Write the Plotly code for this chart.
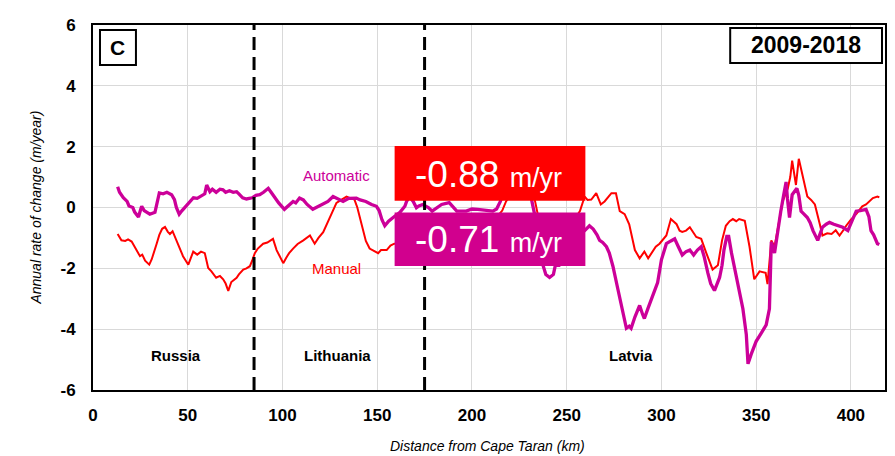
import plotly.graph_objects as go

# ---------------- data ----------------
auto_km = [13, 14, 16, 18, 19, 21, 22, 24, 25, 25.7, 27, 30, 32.7, 34, 35, 37, 39, 41.5, 43, 44, 45.5, 47, 49,
           51, 53, 55, 58, 59, 60, 61.7, 63, 65, 67, 68.6, 70, 72, 74, 75.8, 77, 79, 81, 84, 86, 88, 90, 92.5,
           94, 96, 98, 101, 103, 105.6, 107, 109, 111, 113, 116, 118, 121.5, 124, 126.7, 129, 132, 135, 139,
           141, 144, 147, 149.6, 151, 152.5, 154, 156, 158.4, 161, 162, 164.6, 165.5, 167, 169, 170.7, 172,
           174, 177, 179, 182, 184, 188, 190, 192, 197, 200, 203, 207, 211, 213, 215, 217, 222, 228, 231, 233,
           235, 237, 239, 241, 243, 244, 246, 249, 252, 255, 257, 259.5, 262, 264, 266, 267.4, 269, 271, 272.5,
           274.4, 277, 279.7, 281.5, 283, 284, 286, 288.5, 290, 291, 293, 294.7, 296, 298, 300, 302.6, 305,
           307, 309, 311, 313, 315, 317, 319, 321, 322.5, 324.5, 326, 328, 330.7, 332, 333, 334.5, 335.5,
           337, 339.5, 341, 343, 344.8, 345.7, 347.4, 350, 352.7, 355.3, 357, 358, 359.7, 361, 363, 364.5,
           365.8, 366.5, 367.6, 369, 371.5, 372.5, 373.7, 375, 377, 378.5, 380, 382.5, 385, 387, 388.7, 391,
           393, 395.7, 398.4, 400, 402.8, 405, 408, 409.5, 410.6, 412, 414, 415]
auto_val = [0.68, 0.5, 0.32, 0.2, 0.05, 0.0, -0.15, -0.31, -0.1, 0.04, -0.1, -0.22, -0.16, 0.2, 0.48, 0.45,
            0.5, 0.42, 0.26, 0.0, -0.22, -0.1, 0.04, 0.15, 0.32, 0.3, 0.42, 0.45, 0.74, 0.52, 0.6, 0.5, 0.6,
            0.58, 0.5, 0.55, 0.5, 0.52, 0.45, 0.32, 0.28, 0.32, 0.4, 0.42, 0.5, 0.63, 0.5, 0.31, 0.15, -0.06,
            0.05, 0.2, 0.15, 0.31, 0.25, 0.1, -0.06, 0.0, 0.1, 0.2, 0.36, 0.3, 0.2, 0.3, 0.31, 0.25, 0.2, 0.1,
            0.04, -0.1, -0.4, -0.6, -0.45, -0.33, -0.2, -0.16, 0.04, 0.2, 0.36, 0.2, -0.01, 0.05, 0.1, 0.0,
            -0.12, 0.0, 0.1, 0.16, 0.0, -0.12, -0.12, -0.05, -0.06, -0.1, -0.12, -0.05, 0.2, 0.6, 0.8, 0.7,
            0.4, -0.2, -1.0, -1.8, -2.2, -2.3, -2.2, -1.9, -1.9, -1.5, -1.0, -0.8, -0.75, -0.76, -0.6, -0.71,
            -0.9, -1.08, -1.15, -1.29, -1.5, -1.93, -2.68, -3.43, -3.97, -3.9, -3.97, -3.6, -3.22, -3.5,
            -3.65, -3.3, -3.0, -2.8, -2.47, -1.72, -1.19, -1.1, -1.03, -1.3, -1.56, -1.45, -1.4, -1.56, -1.4,
            -1.29, -1.6, -2.15, -2.5, -2.73, -2.3, -1.9, -1.4, -0.95, -0.95, -1.5, -2.26, -2.7, -3.33, -4.18,
            -5.14, -4.82, -4.4, -4.13, -3.86, -3.33, -1.13, -1.5, -0.9, -0.12, 0.4, 0.84, 0.3, -0.33, 0.42,
            0.63, 0.4, -0.12, -0.2, -0.33, -0.5, -0.76, -1.08, -0.65, -0.55, -0.49, -0.55, -0.6, -0.65, -0.76,
            -0.5, -0.12, -0.1, -0.06, -0.3, -0.76, -0.9, -1.19, -1.22]

manual_km = [13, 14, 15, 17, 18.5, 20.4, 22, 24.8, 26, 27.5, 29.7, 31, 33.6, 35, 36.5, 38, 39.5, 40.6, 42,
             44, 45.9, 47.5, 50.3, 51.5, 52.9, 55, 57, 59, 60.8, 62.5, 65, 67, 68.7, 70, 71.4, 73, 75.8, 77,
             79.3, 81, 82.8, 84, 85.4, 87, 89.8, 92, 95, 96.9, 98.5, 100.4, 102, 103.5, 105.6, 108, 111,
             112.5, 114.5, 117, 119, 121.5, 123, 125, 127, 128.5, 131, 133.8, 136, 138, 139.5, 140.8, 142.5,
             144, 146, 148, 150.5, 152, 155, 157, 159, 165, 172, 180, 190, 200, 208, 214, 216, 218, 221, 226,
             230, 233, 235, 240, 248, 254, 257, 259.5, 261, 263, 265.6, 268, 270, 273.6, 276, 278, 280.6, 283,
             286, 288.5, 291, 293, 295, 297, 299, 302.6, 305, 308, 309.6, 311, 313, 315, 318.4, 321, 323.7,
             325.5, 327, 329.8, 332, 334, 336, 337.7, 339.5, 341, 344, 346.5, 349, 351.8, 355, 356, 357, 358,
             359.7, 362, 364, 366.7, 368, 369, 370, 371, 372.5, 374, 375.5, 377, 379, 381, 383.6, 385, 387.5,
             389.8, 392, 394, 396, 397.5, 400, 402.8, 406, 408, 411.6, 414, 415]
manual_val = [-0.87, -1.0, -1.08, -1.1, -1.05, -1.12, -1.3, -1.6, -1.55, -1.75, -1.88, -1.7, -1.19, -0.9,
              -0.7, -0.64, -0.8, -0.87, -0.78, -1.1, -1.4, -1.6, -1.88, -1.7, -1.45, -1.55, -1.45, -1.5,
              -1.99, -2.1, -2.31, -2.25, -2.36, -2.5, -2.74, -2.45, -2.31, -2.2, -2.04, -2.0, -1.93, -1.75,
              -1.5, -1.35, -1.19, -1.15, -1.03, -1.4, -1.6, -1.83, -1.65, -1.5, -1.35, -1.2, -1.08, -1.0,
              -0.92, -1.19, -1.0, -0.81, -0.6, -0.33, -0.05, 0.15, 0.25, 0.36, 0.3, 0.26, 0.0, -0.33, -0.8,
              -1.1, -1.35, -1.42, -1.5, -1.4, -1.4, -1.25, -1.19, -1.2, -1.0, -0.9, -0.7, -0.55, -0.4, -0.25,
              -0.1, 0.2, 0.5, 0.7, 0.5, 0.3, -0.3, -0.7, -0.6, -0.4, -0.12, 0.36, 0.25, 0.26, 0.47, 0.1, 0.2,
              0.47, 0.47, -0.12, -0.22, -0.55, -1.4, -1.67, -1.45, -1.67, -1.5, -1.29, -1.19, -0.92, -0.38,
              -0.55, -0.76, -0.8, -0.76, -0.65, -0.97, -1.03, -1.5, -1.8, -2.04, -1.9, -1.08, -0.6, -0.45,
              -0.38, -0.45, -0.38, -0.44, -1.29, -2.36, -2.1, -2.15, -2.52, -1.7, -1.08, -1.29, -0.5, 0.2,
              0.63, 1.0, 1.54, 1.2, 0.74, 1.6, 1.2, 0.74, 0.36, 0.25, 0.1, -0.55, -0.92, -0.85, -0.87, -0.75,
              -0.92, -0.75, -0.6, -0.4, -0.22, 0.04, 0.1, 0.31, 0.36, 0.33]

borders_km = [85, 175]
regions = ["Russia", "Lithuania", "Latvia"]
region_km = [44, 129, 284]
x_ticks = [0, 50, 100, 150, 200, 250, 300, 350, 400]
y_ticks = [-6, -4, -2, 0, 2, 4, 6]
manual_mean = "-0.88"
auto_mean = "-0.71"
period = "2009-2018"
panel = "C"

RED = "#FF0000"
MAG = "#CC0099"
MAG_BOX = "#D1008E"
FONT = "Liberation Sans, Arial, Helvetica, sans-serif"

fig = go.Figure()
fig.add_trace(go.Scatter(x=manual_km, y=manual_val, mode="lines", line=dict(color=RED, width=2),
                         name="Manual", hoverinfo="skip"))
fig.add_trace(go.Scatter(x=auto_km, y=auto_val, mode="lines", line=dict(color=MAG, width=3.3),
                         name="Automatic", hoverinfo="skip"))

shapes = []
for b in borders_km:
    shapes.append(dict(type="line", xref="x", yref="paper", x0=b, x1=b, y0=0, y1=1,
                       line=dict(color="black", width=3, dash="13px,7px"), layer="above"))

# Plot area in page px: x 93..886, y 16..390
def px2x(px):
    return (px - 93) / 793.0

def px2y(py):
    return (390 - py) / 374.0

def box(x0, x1, y0, y1, fill, line):
    return dict(type="rect", xref="paper", yref="paper", x0=px2x(x0), x1=px2x(x1),
                y0=px2y(y1), y1=px2y(y0), fillcolor=fill, line=line, layer="above")

shapes.append(box(395, 586, 140, 196, RED, dict(width=0)))
shapes.append(box(395, 586, 208, 263, MAG_BOX, dict(width=0)))
shapes.append(box(100, 136, 21, 57, "white", dict(color="black", width=2)))
shapes.append(box(731, 883, 19, 55, "white", dict(color="black", width=2)))

ann = []
ann.append(dict(xref="paper", yref="paper", x=px2x(489), y=px2y(169),
                text=f"{manual_mean} <span style='font-size:27px'>m/yr</span>",
                showarrow=False, font=dict(family=FONT, size=37, color="white"),
                xanchor="center", yanchor="middle"))
ann.append(dict(xref="paper", yref="paper", x=px2x(489), y=px2y(236),
                text=f"{auto_mean} <span style='font-size:27px'>m/yr</span>",
                showarrow=False, font=dict(family=FONT, size=37, color="white"),
                xanchor="center", yanchor="middle"))
ann.append(dict(xref="paper", yref="paper", x=px2x(118), y=px2y(39), text=f"<b>{panel}</b>",
                showarrow=False, font=dict(family=FONT, size=21, color="black"),
                xanchor="center", yanchor="middle"))
ann.append(dict(xref="paper", yref="paper", x=px2x(807), y=px2y(37), text=f"<b>{period}</b>",
                showarrow=False, font=dict(family=FONT, size=23, color="black"),
                xanchor="center", yanchor="middle"))
ann.append(dict(xref="x", yref="y", x=128.7, y=1.06, text="Automatic", showarrow=False,
                font=dict(family=FONT, size=15, color=MAG), xanchor="center", yanchor="middle"))
ann.append(dict(xref="x", yref="y", x=128.7, y=-1.99, text="Manual", showarrow=False,
                font=dict(family=FONT, size=15, color=RED), xanchor="center", yanchor="middle"))
for r, k in zip(regions, region_km):
    ann.append(dict(xref="x", yref="y", x=k, y=-4.85, text=f"<b>{r}</b>", showarrow=False,
                    font=dict(family=FONT, size=15, color="black"), xanchor="center", yanchor="middle"))
ann.append(dict(xref="paper", yref="paper", x=px2x(35), y=px2y(203),
                text="<i>Annual rate of change (m/year)</i>", textangle=-90, showarrow=False,
                font=dict(family=FONT, size=14, color="black"), xanchor="center", yanchor="middle"))
ann.append(dict(xref="paper", yref="paper", x=px2x(488), y=px2y(447),
                text="<i>Distance from Cape Taran (km)</i>", showarrow=False,
                font=dict(family=FONT, size=14, color="black"), xanchor="center", yanchor="middle"))

# The page body has an 8px margin, so the figure is 8px smaller and margins shifted accordingly
fig.update_layout(
    width=887, height=448,
    margin=dict(l=85, r=9, t=8, b=66),
    paper_bgcolor="white", plot_bgcolor="white",
    showlegend=False,
    shapes=shapes, annotations=ann,
    font=dict(family=FONT, color="black"),
)
fig.update_xaxes(range=[0, 418], tickvals=x_ticks, ticktext=[f"<b>{t}</b>" for t in x_ticks],
                 showgrid=True, gridcolor="#D9D9D9", gridwidth=1, zeroline=False,
                 showline=True, linecolor="black", linewidth=2, mirror=True,
                 ticks="", ticklabelstandoff=9, tickfont=dict(family=FONT, size=17, color="black"))
fig.update_yaxes(range=[-6, 6], tickvals=y_ticks, ticktext=[f"<b>{t}</b>" for t in y_ticks],
                 showgrid=True, gridcolor="#D9D9D9", gridwidth=1, zeroline=False,
                 showline=True, linecolor="black", linewidth=2, mirror=True,
                 ticks="", ticklabelstandoff=12, tickfont=dict(family=FONT, size=17, color="black"))

fig.write_html("out.html")
